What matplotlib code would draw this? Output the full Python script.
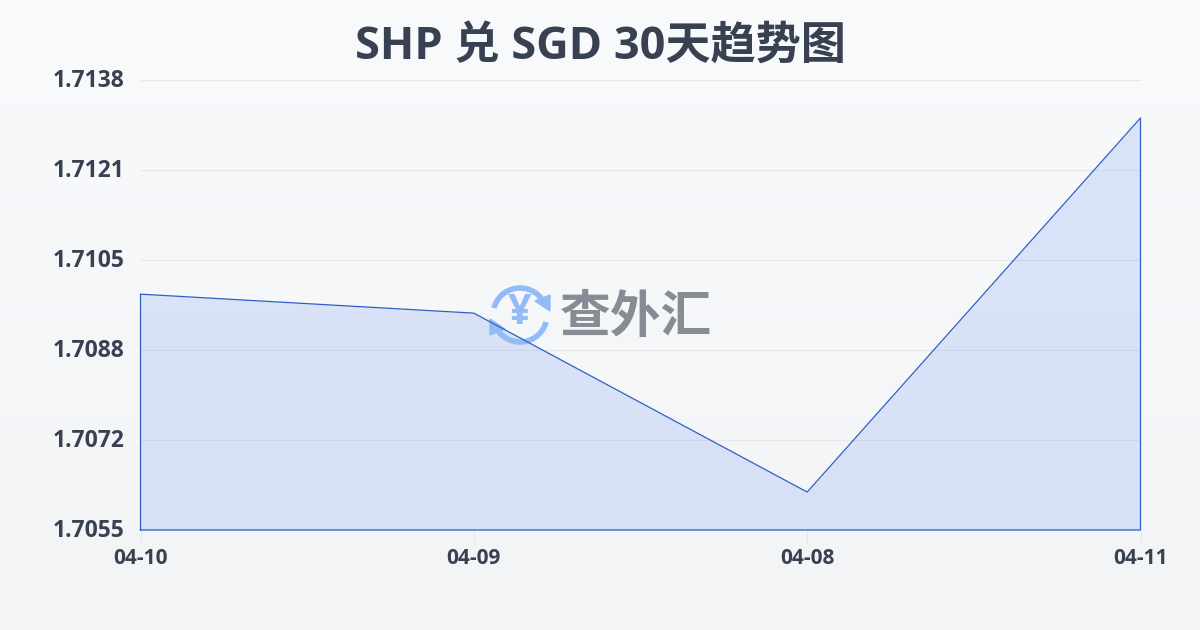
import matplotlib
matplotlib.use('Agg')
import matplotlib.pyplot as plt
import numpy as np
from matplotlib.patches import Arc, Polygon
from matplotlib.transforms import ScaledTranslation

plt.rcParams['font.family'] = ['Open Sans', 'Noto Sans CJK SC', 'DejaVu Sans']

dates = ['04-10', '04-09', '04-08', '04-11']
rates = [1.70985, 1.70950, 1.70620, 1.71310]
y_ticks = [1.7055, 1.7072, 1.7088, 1.7105, 1.7121, 1.7138]

TEXT = '#374151'
BLUE = '#2f5fc4'

fig = plt.figure(figsize=(12, 6.3), dpi=100)

# background gradient, this axes also gives pixel coordinates for the logo
bg = fig.add_axes([0, 0, 1, 1], zorder=0)
bg.set_xlim(0, 1200)
bg.set_ylim(630, 0)
bg.axis('off')
grad = np.linspace(0, 1, 256).reshape(-1, 1)
top = np.array([0.976, 0.980, 0.988])
bottom = np.array([0.953, 0.957, 0.965])
bg.imshow(top + (bottom - top) * grad[:, :, None], extent=[0, 1200, 630, 0], aspect='auto')

ax = fig.add_axes([140.5 / 1200, 100 / 630, 1000 / 1200, 450 / 630], zorder=1)
ax.patch.set_alpha(0)
x = np.arange(len(dates))
ax.set_xlim(0, 3)
ax.set_ylim(1.7055, 1.7138)
ax.fill_between(x, rates, 1.7055, color='#4a7cea', alpha=0.17, lw=0, zorder=2)
ax.plot([0, 0, 1, 2, 3, 3, 0], [1.7055] + rates + [1.7055, 1.7055], color=BLUE, lw=0.9, zorder=4, clip_on=False)

# horizontal grid at evenly spaced levels, labels are rounded values
ax.set_yticks(np.linspace(1.7055, 1.7138, 6))
ax.set_yticklabels([f'{v:.4f}' for v in y_ticks], fontsize=16.5, fontweight='bold', color=TEXT)
ax.set_xticks(x)
ax.set_xticklabels(dates, fontsize=15, fontweight='bold', color=TEXT)
ax.grid(axis='y', color='#e5e7eb', lw=0.8, zorder=1)
ax.set_axisbelow(True)
ax.tick_params(axis='y', length=0, pad=11.5)
ax.tick_params(axis='x', length=10, width=0.8, color='#e5e7eb', pad=3)
up = ScaledTranslation(0, 2 / 72 * 0.72, fig.dpi_scale_trans)
for lab in ax.get_yticklabels():
    lab.set_transform(lab.get_transform() + up)
for s in ax.spines.values():
    s.set_visible(False)

fig.text(0.5, 1 - 47 / 630, 'SHP 兑 SGD 30天趋势图', ha='center', va='center',
         fontsize=32.5, fontweight='bold', color=TEXT)

# watermark logo
px = bg.transData
logo_blue = '#93bbf8'
ax.add_patch(Arc((520, 315), 54, 54, theta1=195, theta2=325, color=logo_blue, lw=4, transform=px, zorder=3, clip_on=False))
ax.add_patch(Arc((520, 315), 54, 54, theta1=15, theta2=145, color=logo_blue, lw=4, transform=px, zorder=3, clip_on=False))
ax.add_patch(Polygon([(535, 301), (550, 295), (550, 311)], color=logo_blue, transform=px, zorder=3, clip_on=False))
ax.add_patch(Polygon([(505, 329), (490, 335), (490, 319)], color=logo_blue, transform=px, zorder=3, clip_on=False))
ax.text(520, 314, '¥', transform=px, ha='center', va='center', fontsize=30, fontweight='bold',
        color=logo_blue, zorder=3)
ax.text(636, 319, '查外汇', transform=px, ha='center', va='center', fontsize=36.5, fontweight='bold',
        color='#868b94', zorder=3)

fig.savefig('out.png', dpi=100)
